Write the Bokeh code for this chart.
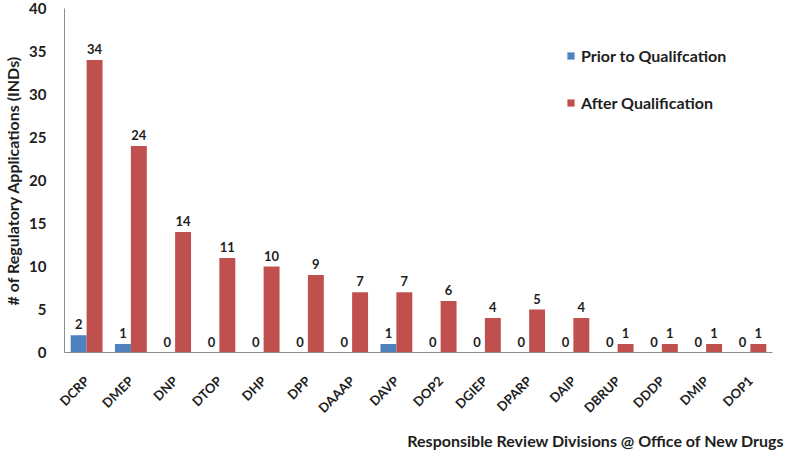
import math
from bokeh.plotting import figure
from bokeh.models import (ColumnDataSource, FactorRange, LabelSet, Legend,
                          LegendItem, Title, FixedTicker)
from bokeh.core.properties import value
from bokeh.transform import dodge
from bokeh.embed import file_html
from bokeh.resources import INLINE

divisions = ["DCRP", "DMEP", "DNP", "DTOP", "DHP", "DPP", "DAAAP", "DAVP",
             "DOP2", "DGIEP", "DPARP", "DAIP", "DBRUP", "DDDP", "DMIP", "DOP1"]
prior = [2, 1, 0, 0, 0, 0, 0, 1, 0, 0, 0, 0, 0, 0, 0, 0]
after = [34, 24, 14, 11, 10, 9, 7, 7, 6, 4, 5, 4, 1, 1, 1, 1]
y_ticks = [0, 5, 10, 15, 20, 25, 30, 35, 40]

series_names = ["Prior to Qualifcation", "After Qualification"]
x_title = "Responsible Review Divisions @ Office of New Drugs"
colors = ["#4F81BD", "#C0504D"]
FONT = "Lato"
TXT = "#1e1e1e"

src = ColumnDataSource(dict(div=divisions, prior=prior, after=after,
                            prior_s=[str(v) for v in prior],
                            after_s=[str(v) for v in after]))

p = figure(width=784, height=455, output_backend="svg", toolbar_location=None,
           x_range=FactorRange(*divisions, range_padding=0),
           y_range=(0, 40),
           min_border_left=58, min_border_right=12, min_border_top=8,
           min_border_bottom=103)
p.outline_line_color = None
p.xgrid.grid_line_color = None
p.ygrid.grid_line_color = None

w = 0.36
r1 = p.vbar(x=dodge("div", -0.18, range=p.x_range), top="prior", width=w,
            source=src, fill_color=colors[0], line_color=None)
r2 = p.vbar(x=dodge("div", 0.18, range=p.x_range), top="after", width=w,
            source=src, fill_color=colors[1], line_color=None)

for col, off in (("prior", -0.18), ("after", 0.18)):
    p.add_layout(LabelSet(x=dodge("div", off, range=p.x_range), y=col,
                          text=col + "_s", source=src, y_offset=6,
                          text_align="center", text_baseline="bottom",
                          text_font=value(FONT), text_font_style="bold",
                          text_font_size="13px", text_color=TXT))

# axes
p.yaxis.ticker = FixedTicker(ticks=y_ticks)
for ax in (p.xaxis[0], p.yaxis[0]):
    ax.axis_line_color = "#8c8c8c"
    ax.major_tick_line_color = None
    ax.minor_tick_line_color = None
    ax.major_label_text_font = FONT
    ax.major_label_text_font_style = "bold"
    ax.major_label_text_color = TXT
p.yaxis.major_label_text_font_size = "15px"
p.yaxis.major_label_standoff = 12
p.yaxis.axis_label = "# of Regulatory Applications (INDs)"
p.yaxis.axis_label_text_font = FONT
p.yaxis.axis_label_text_font_style = "bold"
p.yaxis.axis_label_text_font_size = "16px"
p.yaxis.axis_label_text_color = TXT
p.yaxis.axis_label_standoff = 4

p.xaxis.major_label_orientation = math.pi / 4
p.xaxis.major_label_text_font_size = "13px"
p.xaxis.major_label_standoff = 20

p.add_layout(Title(text=x_title, align="right", text_font=FONT,
                   text_font_style="bold", text_font_size="16px",
                   text_color=TXT, standoff=8, offset=-12), "below")

legend = Legend(items=[LegendItem(label=series_names[0], renderers=[r1]),
                       LegendItem(label=series_names[1], renderers=[r2])],
                location=(502, 240), border_line_color=None,
                background_fill_alpha=0, padding=0, margin=0,
                glyph_width=9, glyph_height=9, label_height=18,
                spacing=28, label_standoff=6,
                label_text_font=FONT, label_text_font_style="bold",
                label_text_font_size="16px", label_text_color=TXT)
p.add_layout(legend)

open("out.html", "w").write(file_html(p, INLINE))
